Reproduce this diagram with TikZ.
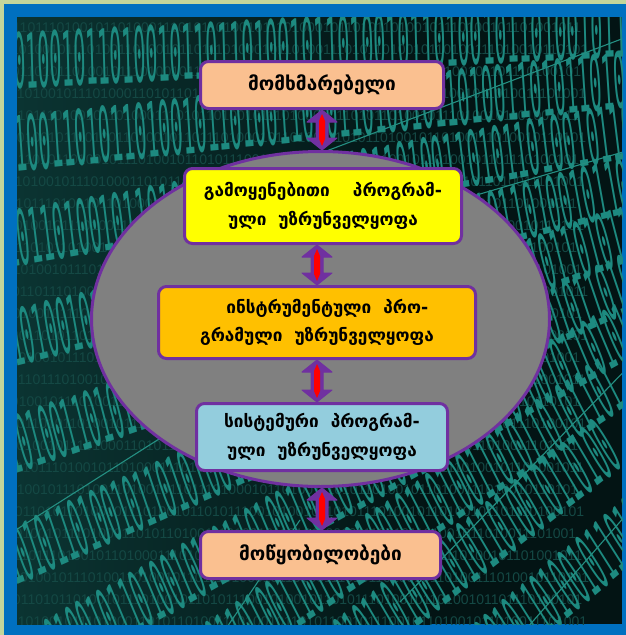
\documentclass[tikz,border=0pt]{standalone}
\usepackage{fontspec}
\setmainfont{DejaVu Sans}
\newfontfamily\bitsfont{Liberation Sans}
\newfontfamily\codefont{DejaVu Sans Mono}
\usetikzlibrary{shapes.geometric,calc}

\definecolor{framegreen}{HTML}{C3D69B}
\definecolor{frameblue}{HTML}{0070C0}
\definecolor{bgdark}{HTML}{031414}
\definecolor{bgglow}{HTML}{0B3432}
\definecolor{bitdim}{HTML}{144844}
\definecolor{bitmid}{HTML}{1D8A80}
\definecolor{bitlight}{HTML}{2AA596}
\definecolor{peach}{HTML}{FAC090}
\definecolor{boxyellow}{HTML}{FFFF00}
\definecolor{boxorange}{HTML}{FFC000}
\definecolor{boxblue}{HTML}{93CDDD}
\definecolor{ovalgray}{HTML}{808080}
\definecolor{edgepurple}{HTML}{7030A0}
\definecolor{linkred}{HTML}{FF0000}

% digit strings for the binary backdrop
\def\rowA{1101001011101000110101101001110100101101011001011100101101001011010011101001}
\def\rowB{0110111010010110100011101011010010111010001011010110100101110100101101001011}
\def\rowC{1010010111010011010010110111010001011010011101011010010110100111010010110101}
\def\rowD{0011010110100101110100101101011100101001011010111010010110100101101110100101}
\def\bigA{10110100101101001011011010010110100101101001011010010110101}
\def\bigB{01101001101011010010110100110101101001011010011010110101101}
\def\bigC{11010110100101101010011010110100101101001101011010010110100}

\tikzset{
  smallbits/.style={anchor=west, inner sep=0, text=bitdim,
    font=\bitsfont\fontsize{14}{14}\selectfont},
  bigbits/.style={anchor=center, inner sep=0, transform shape, xscale=0.5, yscale=1.9,
    text=bitmid, font=\codefont\fontsize{40}{40}\selectfont},
  stream/.style={line width=1.1pt, draw=bitlight!85!bgdark},
  layerbox/.style={draw=edgepurple, line width=3pt, rounded corners=8pt, inner sep=0,
    text=black, align=center, font=\bfseries\fontsize{17.2}{28.5}\selectfont},
  endbox/.style={layerbox, font=\bfseries\fontsize{19}{22}\selectfont},
  % outer outline of a vertical double-headed block arrow
  linkshape/.style={to path={let \p1=(\tikztostart), \p2=(\tikztotarget) in
    (\x1,\y1) -- (\x1+15pt,\y1-12pt) -- (\x1+6pt,\y1-12pt) -- (\x1+6pt,\y2+12pt)
    -- (\x1+15pt,\y2+12pt) -- (\x1,\y2) -- (\x1-15pt,\y2+12pt) -- (\x1-6pt,\y2+12pt)
    -- (\x1-6pt,\y1-12pt) -- (\x1-15pt,\y1-12pt) -- cycle}},
  % red core of the same arrow
  linkcore/.style={to path={let \p1=(\tikztostart), \p2=(\tikztotarget) in
    (\x1,\y1-4pt) -- (\x1+3pt,\y1-11pt) -- (\x1+3pt,\y2+11pt) -- (\x1,\y2+4pt)
    -- (\x1-3pt,\y2+11pt) -- (\x1-3pt,\y1-11pt) -- cycle}},
}

\begin{document}
\begin{tikzpicture}[x=1pt,y=-1pt]
\useasboundingbox (0,0) rectangle (626,635);

% frame
\fill[framegreen] (0,0) rectangle (626,635);
\fill[frameblue] (4,4) rectangle (626,635);

% binary backdrop
\begin{scope}
  \clip (17,17) rectangle (622,624);
  \fill[bgdark] (17,17) rectangle (622,624);
  \shade[left color=bgglow, right color=bgdark] (17,17) rectangle (430,624);
  \foreach \y [count=\i] in {28,50,...,622} {
    \pgfmathtruncatemacro\k{mod(\i,4)}
    \pgfmathsetmacro\xo{12-mod(\i*7,13)}
    \ifcase\k \def\s{\rowA}\or \def\s{\rowB}\or \def\s{\rowC}\else \def\s{\rowD}\fi
    \node[smallbits] at (\xo,\y) {\s};
  }
  % tall slanted digits, rows tilting more towards the bottom
  \node[rotate=3,  bigbits, xslant=0.10] at (320,45)  {\bigA};
  \node[rotate=6,  bigbits, xslant=0.15] at (320,112) {\bigB};
  \node[rotate=10, bigbits, xslant=0.20] at (320,185) {\bigC};
  \node[rotate=14, bigbits, xslant=0.25] at (320,262) {\bigA};
  \node[rotate=19, bigbits, xslant=0.30] at (320,340) {\bigB};
  \node[rotate=24, bigbits, xslant=0.35] at (320,420) {\bigC};
  \node[rotate=29, bigbits, xslant=0.40] at (320,500) {\bigA};
  \node[rotate=34, bigbits, xslant=0.45] at (320,580) {\bigB};
  \node[rotate=38, bigbits, xslant=0.50] at (330,660) {\bigC};
  \node[rotate=40, bigbits, xslant=0.50] at (380,740) {\bigA};
  \draw[stream] (250,180) -- (640,32);
  \draw[stream] (480,194) -- (640,147);
  \draw[stream] (0,540) -- (200,413);
  \draw[stream] (400,602) -- (640,355);
  \draw[stream] (520,636) -- (640,499);
  \draw[stream] (225,630) -- (300,520);
\end{scope}

% software layers
\node[ellipse, draw=edgepurple, line width=3pt, fill=ovalgray, inner sep=0,
      minimum width=458, minimum height=335] (oval) at (320.5,319) {};

\node[endbox, fill=peach, minimum width=243, minimum height=47] (user) at (322,85)
  {მომხმარებელი};
\node[layerbox, fill=boxyellow, minimum width=277, minimum height=75] (apps) at (323,206)
  {გამოყენებითი\hspace{1em} პროგრამ-\\ული\ \ უზრუნველყოფა};
\node[layerbox, fill=boxorange, minimum width=317, minimum height=72] (tools) at (317,322.5)
  {\hspace{1.2em}ინსტრუმენტული\ \ პრო-\\გრამული\ \ უზრუნველყოფა};
\node[layerbox, fill=boxblue, minimum width=251, minimum height=67] (system) at (322,437)
  {სისტემური\ \ პროგრამ-\\ული\ \ უზრუნველყოფა\hspace{0.4em}};
\node[endbox, fill=peach, minimum width=240, minimum height=47] (devices) at (320.5,555)
  {მოწყობილობები};

% double-headed links between the layers
\draw[linkshape, fill=edgepurple, draw=edgepurple, line width=1pt, line join=round]
  (user.south) to (user.south |- oval.north);
\fill[linkcore, linkred] (user.south) to (user.south |- oval.north);
\draw[linkshape, fill=edgepurple, draw=edgepurple, line width=1pt, line join=round]
  (tools.north |- apps.south) to (tools.north);
\fill[linkcore, linkred] (tools.north |- apps.south) to (tools.north);
\draw[linkshape, fill=edgepurple, draw=edgepurple, line width=1pt, line join=round]
  (tools.south) to (tools.south |- system.north);
\fill[linkcore, linkred] (tools.south) to (tools.south |- system.north);
\draw[linkshape, fill=edgepurple, draw=edgepurple, line width=1pt, line join=round]
  (system.south |- oval.south) to (system.south |- devices.north);
\fill[linkcore, linkred] (system.south |- oval.south) to (system.south |- devices.north);
\end{tikzpicture}
\end{document}
